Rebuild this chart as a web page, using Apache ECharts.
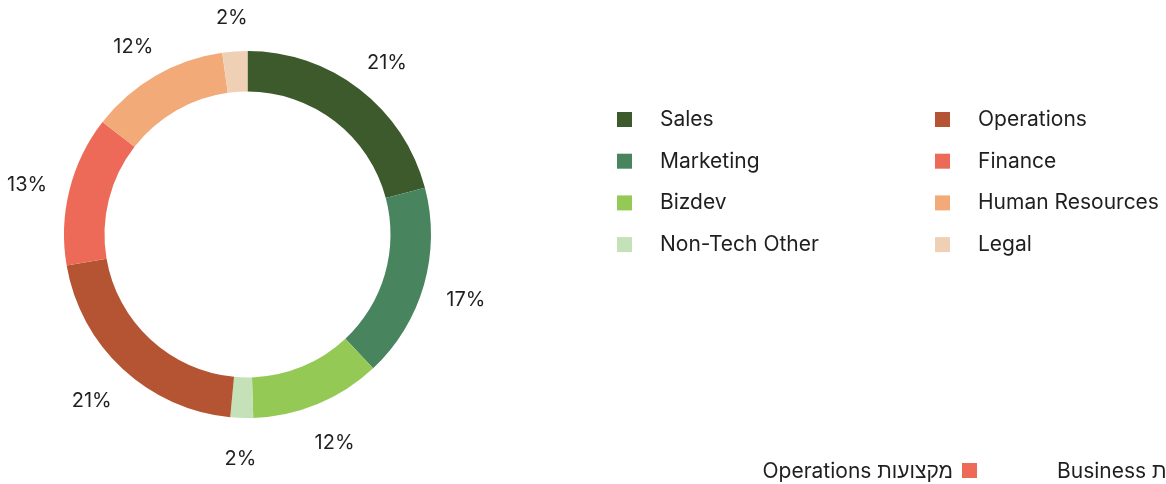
<!DOCTYPE html>
<html>
<head>
<meta charset="utf-8">
<script src="https://cdn.jsdelivr.net/npm/echarts@6/dist/echarts.min.js"></script>
<style>
  html, body { margin: 0; padding: 0; background: #ffffff; }
  #chart { width: 1166px; height: 484px; }
</style>
</head>
<body>
<div id="chart"></div>
<script>
// 数据
const categories = ['Sales', 'Marketing', 'Bizdev', 'Non-Tech Other', 'Operations', 'Finance', 'Human Resources', 'Legal']
const shares = [20.9, 17.1, 11.5, 2.0, 20.8, 13.2, 12.3, 2.2]
const colors = ['#3c5a2b', '#48855f', '#95c955', '#c5e1b7', '#b55433', '#ee6a58', '#f2aa79', '#f0d0b5']

const fontFamily = 'Inter, "Noto Sans", sans-serif'
const pieCenter = [247.5, 234.5]
const pieData = categories.map((name, i) => ({ name: name, value: shares[i] }))

// 标签框沿半径方向稍微外推
function pushOut(params) {
  const r = params.labelRect
  const lx = r.x + r.width / 2
  const ly = r.y + r.height / 2
  const dx = lx - pieCenter[0]
  const dy = ly - pieCenter[1]
  const len = Math.sqrt(dx * dx + dy * dy)
  const ux = dx / len
  const uy = dy / len
  const vs = 1 / Math.max(Math.abs(ux), Math.abs(uy))
  return {
    x: lx + ux * vs * 6,
    y: ly + 4,
    align: 'center',
    verticalAlign: 'middle'
  }
}

const legendText = { fontSize: 21, color: '#1f1f1f', lineHeight: 20, padding: [0, 0, 0, 23] }

const chart = echarts.init(document.getElementById('chart'))
const option = {
  animation: false,
  color: colors,
  textStyle: { fontFamily: fontFamily },
  legend: [
    {
      data: categories.slice(0, 4),
      orient: 'vertical',
      left: 617,
      top: 109,
      padding: 0,
      icon: 'rect',
      itemWidth: 15,
      itemHeight: 15,
      itemGap: 20.7,
      textStyle: legendText
    },
    {
      data: categories.slice(4),
      orient: 'vertical',
      left: 935,
      top: 109,
      padding: 0,
      icon: 'rect',
      itemWidth: 15,
      itemHeight: 15,
      itemGap: 20.7,
      textStyle: legendText
    }
  ],
  series: [
    {
      type: 'pie',
      center: pieCenter,
      radius: [143, 183.5],
      startAngle: 90,
      clockwise: true,
      itemStyle: { borderWidth: 0 },
      label: { show: false },
      labelLine: { show: false },
      data: pieData
    },
    {
      // 透明的外圈，只用来放百分比标签
      type: 'pie',
      center: pieCenter,
      radius: [200, 236],
      startAngle: 90,
      clockwise: true,
      silent: true,
      itemStyle: { color: 'rgba(0,0,0,0)' },
      label: {
        show: true,
        position: 'inside',
        fontSize: 20,
        color: '#1f1f1f',
        formatter: p => Math.round(p.percent) + '%'
      },
      labelLayout: pushOut,
      labelLine: { show: false },
      emphasis: { disabled: true },
      data: pieData
    }
  ],
  graphic: [
    {
      type: 'rect',
      left: 962,
      top: 463,
      shape: { width: 15, height: 15 },
      style: { fill: '#ee6a58' }
    },
    {
      type: 'text',
      right: 1166 - 953,
      top: 461,
      style: { text: 'Operations מקצועות', fontSize: 21, fontFamily: fontFamily, fill: '#1f1f1f' }
    },
    {
      type: 'text',
      left: 1057,
      top: 461,
      style: { text: 'Business מקצועות', fontSize: 21, fontFamily: fontFamily, fill: '#1f1f1f' }
    }
  ]
}
chart.setOption(option)
</script>
</body>
</html>
